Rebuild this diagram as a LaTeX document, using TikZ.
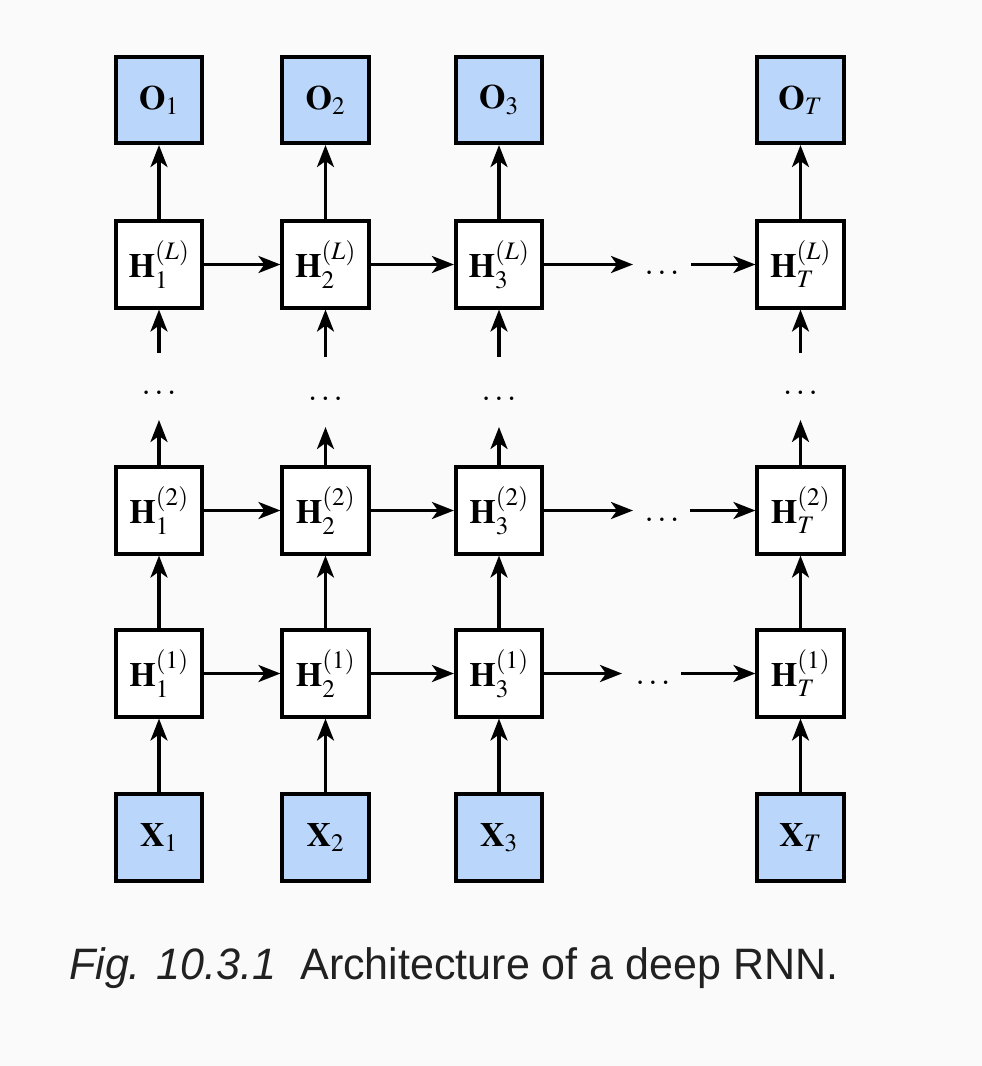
\documentclass[tikz,border=0pt]{standalone}
\usepackage{mathptmx}
\usepackage[no-math]{fontspec}
\newfontfamily\capfont{Liberation Sans}
\usetikzlibrary{arrows.meta}
\definecolor{bgcol}{RGB}{250,250,250}
\definecolor{iocol}{RGB}{186,215,251}
\tikzset{
  cell/.style={draw, line width=3.6pt, minimum size=86.5pt, inner sep=0pt, fill=white,
    font=\fontsize{34}{40}\selectfont},
  iocell/.style={cell, fill=iocol},
  dotnode/.style={inner sep=0pt, font=\fontsize{33}{38}\selectfont},
  link/.style={line width=3.2pt, -{Stealth[length=22pt,width=17pt,inset=6pt]}},
}
\begin{document}
\begin{tikzpicture}[x=1pt, y=-1pt]
\fill[bgcol] (0,0) rectangle (982,1066);
\useasboundingbox (0,0) rectangle (982,1066);
% outputs
\node[iocell] (o1) at (159, 100) {$\mathbf{O}_1$};
\node[iocell] (o2) at (325.5, 100) {$\mathbf{O}_2$};
\node[iocell] (o3) at (499, 100) {$\mathbf{O}_3$};
\node[iocell] (oT) at (800.5, 100) {$\mathbf{O}_T$};
% top layer
\node[cell] (hL1) at (159, 264.5) {$\mathbf{H}_1^{(L)}$};
\node[cell] (hL2) at (325.5, 264.5) {$\mathbf{H}_2^{(L)}$};
\node[cell] (hL3) at (499, 264.5) {$\mathbf{H}_3^{(L)}$};
\node[cell] (hLT) at (800.5, 264.5) {$\mathbf{H}_T^{(L)}$};
% second layer
\node[cell] (hb1) at (159, 510.5) {$\mathbf{H}_1^{(2)}$};
\node[cell] (hb2) at (325.5, 510.5) {$\mathbf{H}_2^{(2)}$};
\node[cell] (hb3) at (499, 510.5) {$\mathbf{H}_3^{(2)}$};
\node[cell] (hbT) at (800.5, 510.5) {$\mathbf{H}_T^{(2)}$};
% first layer
\node[cell] (ha1) at (159, 673.5) {$\mathbf{H}_1^{(1)}$};
\node[cell] (ha2) at (325.5, 673.5) {$\mathbf{H}_2^{(1)}$};
\node[cell] (ha3) at (499, 673.5) {$\mathbf{H}_3^{(1)}$};
\node[cell] (haT) at (800.5, 673.5) {$\mathbf{H}_T^{(1)}$};
% inputs
\node[iocell] (x1) at (159, 837.5) {$\mathbf{X}_1$};
\node[iocell] (x2) at (325.5, 837.5) {$\mathbf{X}_2$};
\node[iocell] (x3) at (499, 837.5) {$\mathbf{X}_3$};
\node[iocell] (xT) at (800.5, 837.5) {$\mathbf{X}_T$};
% skipped layers
\node[dotnode] (v1) at (159, 393) {$\ldots$};
\node[dotnode] (v2) at (325.5, 399) {$\ldots$};
\node[dotnode] (v3) at (499, 399) {$\ldots$};
\node[dotnode] (vT) at (800.5, 393) {$\ldots$};
% skipped time steps
\node[dotnode] (tL) at (662, 273) {$\ldots$};
\node[dotnode] (tb) at (662, 520) {$\ldots$};
\node[dotnode] (ta) at (653, 683) {$\ldots$};
\coordinate (tLin) at (633, 264.5);
\coordinate (tLout) at (691, 264.5);
\coordinate (tbin) at (633, 510.5);
\coordinate (tbout) at (690, 510.5);
\coordinate (tain) at (622, 673.5);
\coordinate (taout) at (681, 673.5);
\coordinate (u1) at (159, 420);
\coordinate (u2) at (325.5, 427);
\coordinate (u3) at (499, 427);
\coordinate (uT) at (800.5, 420);
\coordinate (w1) at (159, 353);
\coordinate (w2) at (325.5, 357);
\coordinate (w3) at (499, 357);
\coordinate (wT) at (800.5, 353);
% vertical links
\draw[link] (x1) -- (ha1);
\draw[link] (x2) -- (ha2);
\draw[link] (x3) -- (ha3);
\draw[link] (xT) -- (haT);
\draw[link] (ha1) -- (hb1);
\draw[link] (ha2) -- (hb2);
\draw[link] (ha3) -- (hb3);
\draw[link] (haT) -- (hbT);
\draw[link] (hb1.north) -- (u1);
\draw[link] (hb2.north) -- (u2);
\draw[link] (hb3.north) -- (u3);
\draw[link] (hbT.north) -- (uT);
\draw[link] (w1) -- (hL1.south);
\draw[link] (w2) -- (hL2.south);
\draw[link] (w3) -- (hL3.south);
\draw[link] (wT) -- (hLT.south);
\draw[link] (hL1) -- (o1);
\draw[link] (hL2) -- (o2);
\draw[link] (hL3) -- (o3);
\draw[link] (hLT) -- (oT);
% horizontal links
\draw[link] (ha1) -- (ha2);
\draw[link] (ha2) -- (ha3);
\draw[link] (ha3.east) -- (tain);
\draw[link] (taout) -- (haT.west);
\draw[link] (hb1) -- (hb2);
\draw[link] (hb2) -- (hb3);
\draw[link] (hb3.east) -- (tbin);
\draw[link] (tbout) -- (hbT.west);
\draw[link] (hL1) -- (hL2);
\draw[link] (hL2) -- (hL3);
\draw[link] (hL3.east) -- (tLin);
\draw[link] (tLout) -- (hLT.west);
% caption
\node[anchor=base west, inner sep=0pt, text=black!87, font=\capfont\fontsize{44}{52}\selectfont] (cap) at (69, 979) {\scalebox{0.978}[1]{\textit{Fig. 10.3.1}\ \ Architecture of a deep RNN.}};
\end{tikzpicture}
\end{document}
